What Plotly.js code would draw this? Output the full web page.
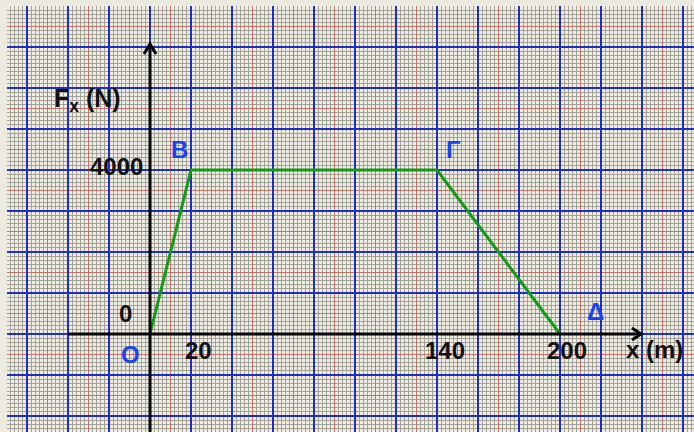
<!DOCTYPE html>
<html>
<head>
<meta charset="utf-8">
<script src="https://cdn.plot.ly/plotly-3.0.1.min.js"></script>
<style>html,body{margin:0;padding:0;background:#ece9df;}#chart{width:694px;height:432px;}</style>
</head>
<body>
<div id="chart"></div>
<script>
// Data: F_x (N) versus x (m)
const xValues = [0, 20, 140, 200];
const fValues = [0, 4000, 4000, 0];
const pointNames = ['O', 'B', 'Γ', 'Δ'];
const xTickVals = [20, 140, 200];
const xTickText = ['20', '140', '200'];
const yTickVals = [0, 4000];
const yTickText = ['0', '4000'];
const xTitle = 'x (m)';
const yTitle = 'F<sub>x</sub> (N)';

// Layout constants
const X_RANGE = [-69.76, 265.37];
const Y_RANGE = [-2390, 8000];
const X_AXIS_START = -40, X_AXIS_TIP = 239.5;
const Y_AXIS_TIP = 7073;
const BLUE = '#1f2fc4', RED = '#c27266', GRAY = '#a3a299';
const LABEL_BLUE = '#1a42f5';
const FONT = {family: 'Liberation Sans, Arial, sans-serif', size: 24, color: '#111111', weight: 'bold'};

const baseAxis = {showticklabels: false, ticks: '', zeroline: false, showline: false, fixedrange: true, showgrid: true, tick0: 0};

const traces = [
  {x: [xValues[0]], y: [fValues[0]], type: 'scatter', mode: 'none', xaxis: 'x2', yaxis: 'y2', hoverinfo: 'skip'},
  {x: xValues, y: fValues, type: 'scatter', mode: 'lines',
   line: {color: '#159a15', width: 3}, xaxis: 'x3', yaxis: 'y3', hoverinfo: 'skip'}
];

const annotations = [];
xTickVals.forEach((v, i) => annotations.push({
  x: v, y: 0, xref: 'x', yref: 'y', text: xTickText[i], showarrow: false,
  xshift: 7.5, yshift: -16, font: FONT
}));
annotations.push({x: 0, y: yTickVals[0], xref: 'x', yref: 'y', text: yTickText[0], showarrow: false, xshift: -24.5, yshift: 20.5, font: FONT});
annotations.push({x: 0, y: yTickVals[1], xref: 'x', yref: 'y', text: yTickText[1], showarrow: false, xshift: -34, yshift: 3.5, font: FONT});
annotations.push({x: X_AXIS_TIP, y: 0, xref: 'x', yref: 'y', text: xTitle, showarrow: false, xshift: 14, yshift: -15, font: FONT});
annotations.push({x: 0, y: Y_AXIS_TIP, xref: 'x', yref: 'y', text: yTitle, showarrow: false, xshift: -63, yshift: -56, font: Object.assign({}, FONT, {size: 25})});
const nameShift = [[-19.5, -20.5], [-12, 21], [16, 21], [36, 23]];
pointNames.forEach((n, i) => annotations.push({
  x: xValues[i], y: fValues[i], xref: 'x', yref: 'y', text: n, showarrow: false,
  xshift: nameShift[i][0], yshift: nameShift[i][1], font: Object.assign({}, FONT, {color: LABEL_BLUE})
}));

const axisLine = {color: '#000000', width: 3};
const shapes = [
  {type: 'line', xref: 'x', yref: 'y', x0: X_AXIS_START, x1: X_AXIS_TIP, y0: 0, y1: 0, line: axisLine},
  {type: 'line', xref: 'x', yref: 'y', x0: 0, x1: 0, y0: Y_RANGE[0], y1: Y_AXIS_TIP, line: axisLine},
  {type: 'path', xref: 'x', yref: 'y', xsizemode: 'pixel', ysizemode: 'pixel', xanchor: X_AXIS_TIP, yanchor: 0,
   path: 'M-9,-6 L0,0 L-9,6', line: axisLine},
  {type: 'path', xref: 'x', yref: 'y', xsizemode: 'pixel', ysizemode: 'pixel', xanchor: 0, yanchor: Y_AXIS_TIP,
   path: 'M-6,-10 L0,0 L6,-10', line: axisLine}
];

const layout = {
  width: 694, height: 432,
  margin: {l: 7, r: 0, t: 6, b: 0, pad: 0},
  paper_bgcolor: '#ece9df', plot_bgcolor: '#f0ede5',
  showlegend: false,
  xaxis: Object.assign({}, baseAxis, {range: X_RANGE, dtick: 2, gridcolor: GRAY, gridwidth: 1}),
  yaxis: Object.assign({}, baseAxis, {range: Y_RANGE, dtick: 100, gridcolor: GRAY, gridwidth: 1}),
  xaxis2: Object.assign({}, baseAxis, {range: X_RANGE, overlaying: 'x', anchor: 'y2', dtick: 10, gridcolor: RED, gridwidth: 1}),
  yaxis2: Object.assign({}, baseAxis, {range: Y_RANGE, overlaying: 'y', anchor: 'x2', dtick: 500, gridcolor: RED, gridwidth: 1}),
  xaxis3: Object.assign({}, baseAxis, {range: X_RANGE, overlaying: 'x', anchor: 'y3', dtick: 20, gridcolor: BLUE, gridwidth: 2}),
  yaxis3: Object.assign({}, baseAxis, {range: Y_RANGE, overlaying: 'y', anchor: 'x3', dtick: 1000, gridcolor: BLUE, gridwidth: 2}),
  annotations: annotations,
  shapes: shapes
};

Plotly.newPlot('chart', traces, layout, {displayModeBar: false, staticPlot: true});
</script>
</body>
</html>
